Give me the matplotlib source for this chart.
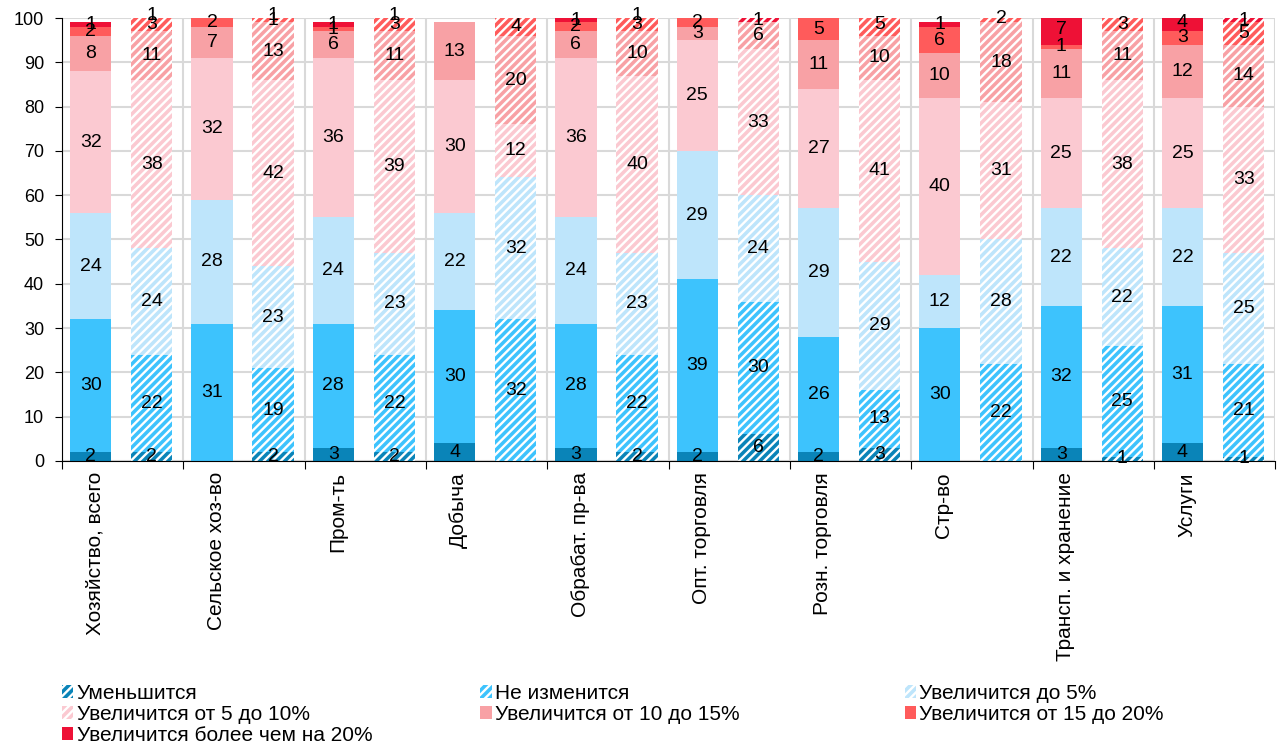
import matplotlib.pyplot as plt
import matplotlib.patches as mpatches
import numpy as np

plt.rcParams['font.family'] = ['Liberation Sans', 'DejaVu Sans']
plt.rcParams['hatch.linewidth'] = 1.7

categories = ['Хозяйство, всего', 'Сельское хоз-во', 'Пром-ть', 'Добыча',
              'Обрабат. пр-ва', 'Опт. торговля', 'Розн. торговля', 'Стр-во',
              'Трансп. и хранение', 'Услуги']

series = ['Уменьшится', 'Не изменится', 'Увеличится до 5%',
          'Увеличится от 5 до 10%', 'Увеличится от 10 до 15%',
          'Увеличится от 15 до 20%', 'Увеличится более чем на 20%']

colors = ['#0A84B8', '#3DC3FD', '#BEE5FB', '#FBC9D1', '#F8A1A5', '#FF5B5B', '#EE1136']

# solid bars (current), one row per category, columns in series order
current = [
    [2, 30, 24, 32, 8, 2, 1],
    [0, 31, 28, 32, 7, 2, 0],
    [3, 28, 24, 36, 6, 1, 1],
    [4, 30, 22, 30, 13, 0, 0],
    [3, 28, 24, 36, 6, 2, 1],
    [2, 39, 29, 25, 3, 2, 0],
    [2, 26, 29, 27, 11, 5, 0],
    [0, 30, 12, 40, 10, 6, 1],
    [3, 32, 22, 25, 11, 1, 7],
    [4, 31, 22, 25, 12, 3, 4],
]

# hatched bars (expected)
expected = [
    [2, 22, 24, 38, 11, 3, 1],
    [2, 19, 23, 42, 13, 1, 1],
    [2, 22, 23, 39, 11, 3, 1],
    [0, 32, 32, 12, 20, 4, 0],
    [2, 22, 23, 40, 10, 3, 1],
    [6, 30, 24, 33, 6, 0, 1],
    [3, 13, 29, 41, 10, 5, 0],
    [0, 22, 28, 31, 18, 2, 0],
    [1, 25, 22, 38, 11, 3, 0],
    [1, 21, 25, 33, 14, 5, 1],
]

fig = plt.figure(figsize=(12.79, 7.44), dpi=100)
ax = fig.add_axes([0.0485, 0.3804, 0.9485, 0.5954])

x = np.arange(len(categories))
width = 0.34


def stacked(xpos, data, hatched):
    data = np.array(data)
    bottom = np.zeros(len(xpos))
    for k in range(data.shape[1]):
        vals = data[:, k]
        if hatched:
            ax.bar(xpos, vals, width, bottom=bottom, color=colors[k],
                   edgecolor='white', hatch='////', linewidth=0, zorder=3)
        else:
            ax.bar(xpos, vals, width, bottom=bottom, color=colors[k],
                   linewidth=0, zorder=3)
        for xi, b, v in zip(xpos, bottom, vals):
            if v > 0:
                ax.text(xi, b + v / 2, str(v), ha='center', va='center',
                        fontsize=14, zorder=5)
        bottom = bottom + vals


stacked(x + 0.236, current, False)
stacked(x + 0.74, expected, True)

ax.set_xlim(0, len(categories))
ax.set_ylim(0, 100)
ax.set_yticks(np.arange(0, 101, 10))
ax.set_xticks(np.arange(0, len(categories) + 1))
ax.set_xticklabels([])
ax.tick_params(axis='y', labelsize=13, length=5, direction='out', pad=8)
ax.tick_params(axis='x', length=6, direction='out')

ax.grid(True, color='#D9D9D9', linewidth=1.5, zorder=0)
for s in ['top', 'right']:
    ax.spines[s].set_visible(False)
ax.spines['left'].set_color('black')
ax.spines['bottom'].set_color('black')
ax.spines['bottom'].set_zorder(6)

for i, name in enumerate(categories):
    ax.text(i + 0.27, -2.5, name, rotation=90, ha='center', va='top',
            fontsize=15)

handles = []
for k in range(len(series)):
    if k < 4:
        h = mpatches.Patch(facecolor=colors[k], edgecolor='white', hatch='////',
                           linewidth=0, label=series[k])
    else:
        h = mpatches.Patch(facecolor=colors[k], linewidth=0, label=series[k])
    handles.append(h)

# three legend columns with fixed left edges
columns = [[0, 3, 6], [1, 4], [2, 5]]
col_x = [0.0485, 0.3755, 0.7075]
for idx, cx in zip(columns, col_x):
    leg = fig.legend([handles[i] for i in idx], [series[i] for i in idx],
                     loc='upper left', bbox_to_anchor=(cx, 0.081),
                     ncol=1, frameon=False, fontsize=15,
                     handlelength=0.55, handleheight=0.55, handletextpad=0.15,
                     labelspacing=0.1, borderaxespad=0.0, borderpad=0.0)

fig.savefig('out.png', dpi=100)
